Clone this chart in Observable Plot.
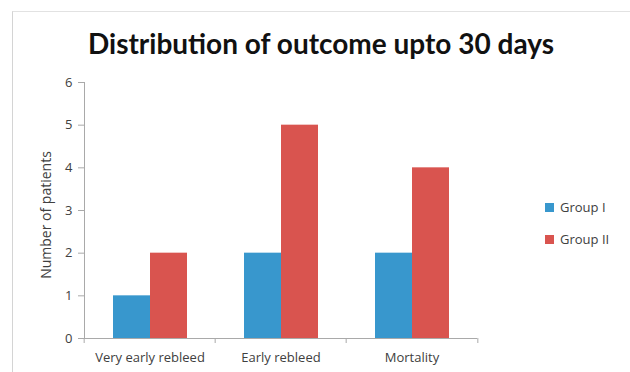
<!DOCTYPE html>
<html>
<head>
<meta charset="utf-8">
<script src="https://cdn.jsdelivr.net/npm/d3@7"></script>
<script src="https://cdn.jsdelivr.net/npm/@observablehq/plot@0.6"></script>
<style>
  html, body { margin: 0; padding: 0; background: #fff; }
  #wrap { position: relative; width: 630px; height: 372px; overflow: hidden; font-family: "Open Sans", sans-serif; }
  #border { position: absolute; left: 12px; top: 11px; right: -2px; bottom: -2px; border-left: 1px solid #d4d4d4; border-top: 1px solid #e2e2e2; }
  #title { position: absolute; left: 0; width: 642px; top: 26px; text-align: center; font-family: "Lato", sans-serif; font-weight: bold; font-size: 28px; color: #111; white-space: nowrap; }
  #legend { position: absolute; left: 545px; top: 199px; font-size: 13px; color: #404040; }
  .item { display: flex; align-items: center; height: 16px; margin-bottom: 16px; }
  .sw { width: 9px; height: 9px; margin-right: 6px; }
  #chart { position: absolute; left: 0; top: 0; }
</style>
</head>
<body>
<div id="wrap">
  <div id="border"></div>
  <div id="chart"></div>
  <div id="title"></div>
  <div id="legend"></div>
</div>
<script>
const title = "Distribution of outcome upto 30 days";
const categories = ["Very early rebleed", "Early rebleed", "Mortality"];
const groups = ["Group I", "Group II"];
const groupI = [1, 2, 2];
const groupII = [2, 5, 4];
const yTicks = [0, 1, 2, 3, 4, 5, 6];
const yLabel = "Number of patients";
const colors = ["#3897cd", "#d9544f"];

const data = categories.flatMap((c, i) => [
  {category: c, group: groups[0], value: groupI[i]},
  {category: c, group: groups[1], value: groupII[i]}
]);

const W = 630, H = 372, mL = 83, mR = 152, mT = 82, mB = 34;
const bw = (W - mL - mR) / categories.length;
const axisGray = "#a9a9a9";
const textColor = "#404040";

const chart = Plot.plot({
  width: W, height: H,
  marginLeft: mL, marginRight: mR, marginTop: mT, marginBottom: mB,
  style: {fontFamily: "Open Sans, sans-serif", fontSize: "13px", color: textColor, background: "transparent"},
  fx: {domain: categories, padding: 0, label: null},
  x: {domain: groups, paddingInner: 0, paddingOuter: 0.76, axis: null},
  y: {domain: [0, 6], label: null},
  color: {domain: groups, range: colors},
  marks: [
    Plot.barY(data, {fx: "category", x: "group", y: "value", fill: "group"}),
    Plot.ruleY([0], {stroke: axisGray}),
    Plot.frame({anchor: "left", stroke: axisGray, facetAnchor: "left"}),
    Plot.axisY({ticks: yTicks, tickFormat: d3.format("d"), tickSize: 6, tickPadding: 6, stroke: axisGray, fill: textColor, label: null}),
    Plot.axisFx({anchor: "bottom", tickSize: 0, tickPadding: 14, fill: textColor, label: null}),
    Plot.axisFx({anchor: "bottom", tickSize: 5, stroke: axisGray, tickFormat: () => "", dx: -bw / 2, label: null}),
    Plot.axisFx({anchor: "bottom", ticks: [categories[categories.length - 1]], tickSize: 5, stroke: axisGray, tickFormat: () => "", dx: bw / 2, label: null})
  ]
});
document.getElementById("chart").append(chart);

// y-axis title
const svg = d3.select(chart);
svg.append("text")
  .attr("transform", `translate(47,${mT + (H - mT - mB) / 2 + 5}) rotate(-90)`)
  .attr("text-anchor", "middle")
  .attr("dominant-baseline", "middle")
  .attr("fill", textColor)
  .style("font-size", "14px")
  .text(yLabel);

document.getElementById("title").textContent = title;
const legend = document.getElementById("legend");
groups.forEach((g, i) => {
  const item = document.createElement("div");
  item.className = "item";
  const sw = document.createElement("div");
  sw.className = "sw";
  sw.style.background = colors[i];
  const t = document.createElement("span");
  t.textContent = g;
  item.append(sw, t);
  legend.append(item);
});
</script>
</body>
</html>
